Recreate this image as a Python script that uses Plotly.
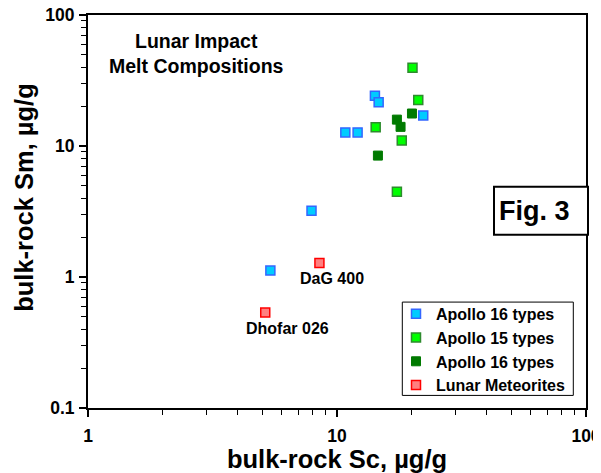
import math
import plotly.graph_objects as go

FONT = "Arial, Liberation Sans, sans-serif"

# Apollo 16 types (light blue)
a16_sc = [14.2, 14.7, 22.2, 10.8, 12.1, 7.9, 5.4]
a16_sm = [24.2, 21.6, 17.1, 12.7, 12.7, 3.2, 1.12]
# Apollo 15 types (light green)
a15_sc = [20.1, 21.2, 14.3, 18.2, 17.4]
a15_sm = [39.6, 22.4, 13.9, 11.0, 4.47]
# Apollo 16 types (dark green)
a16b_sc = [20.0, 17.4, 18.0, 14.6]
a16b_sm = [17.7, 15.9, 14.0, 8.45]
# Lunar meteorites
met_sc = [8.5, 5.15]
met_sm = [1.28, 0.536]
met_names = ["DaG 400", "Dhofar 026"]

x_ticks = [1, 10, 100]
y_ticks = [0.1, 1, 10, 100]
x_minor = [m * d for d in (1, 10) for m in range(2, 10)]
y_minor = [m * d for d in (0.1, 1, 10) for m in range(2, 10)]

fig = go.Figure()

def add(xs, ys, name, fill, edge, width=1.5):
    fig.add_trace(go.Scatter(
        x=xs, y=ys, mode="markers", name="<b>%s</b>" % name,
        marker=dict(symbol="square", size=9, color=fill,
                    line=dict(color=edge, width=width)),
    ))

add(a16_sc, a16_sm, "Apollo 16 types", "#00CCFF", "#3366FF")
add(a15_sc, a15_sm, "Apollo 15 types", "#00FF00", "#2E8B2E")
add(a16b_sc, a16b_sm, "Apollo 16 types", "#007A00", "#007A00", 1)
add(met_sc, met_sm, "Lunar Meteorites", "#FF8080", "#FF0000")

# labels for meteorites (log axes: annotation coords are log10)
offsets = [(13, -16), (22, -16)]
for xv, yv, nm, (dx, dy) in zip(met_sc, met_sm, met_names, offsets):
    fig.add_annotation(x=math.log10(xv), y=math.log10(yv), xref="x", yref="y",
                       text="<b>%s</b>" % nm, showarrow=False, xshift=dx, yshift=dy,
                       xanchor="center", yanchor="middle",
                       font=dict(family=FONT, size=16, color="black"))

# plot area in page pixels (page has an 8px body margin)
OFF = 8
FW, FH = 593, 465
L, R, T, B = 88, 586, 15, 408.3
W, H = R - L, B - T
def px(xp):
    return (xp - L) / W
def py(yp):
    return (B - yp) / H

fig.add_annotation(x=px(196), y=py(54), xref="paper", yref="paper",
                   xanchor="center", yanchor="middle",
                   text="<b>Lunar Impact<br>Melt Compositions</b>", showarrow=False,
                   font=dict(family=FONT, size=19.5, color="black"), align="center")

# y axis title (placed as text so it can sit off-centre like the reference)
fig.add_annotation(x=px(24), y=py(198), xref="paper", yref="paper",
                   xanchor="center", yanchor="middle", textangle=-90,
                   text="<b>bulk-rock Sm, µg/g</b>", showarrow=False,
                   font=dict(family=FONT, size=25.5, color="black"))

# Fig. 3 box
fig.add_shape(type="rect", xref="paper", yref="paper",
              x0=px(494), x1=px(588), y0=py(235), y1=py(187),
              line=dict(color="black", width=2), fillcolor="white", layer="above")
fig.add_annotation(x=px(534), y=py(211), xref="paper", yref="paper",
                   xanchor="center", yanchor="middle",
                   text="<b>Fig. 3</b>", showarrow=False,
                   font=dict(family=FONT, size=27, color="black"))

# legend frame
fig.add_shape(type="rect", xref="paper", yref="paper",
              x0=px(402.3), x1=px(573.3), y0=py(395.7), y1=py(302.3),
              line=dict(color="black", width=1), fillcolor="white", layer="below")

axis_common = dict(
    type="log", showgrid=False, zeroline=False, automargin=False,
    showline=True, linecolor="black", linewidth=2, mirror=True,
    ticks="outside", ticklen=7, tickwidth=1.5, tickcolor="black",
    ticklabeloverflow="allow",
    tickfont=dict(family=FONT, size=17.5, color="black"),
)

fig.update_xaxes(range=[0, 2], tickvals=x_ticks,
                 ticktext=["<b>%g</b>" % v for v in x_ticks], ticklabelstandoff=4,
                 minor=dict(tickmode="array", tickvals=x_minor, ticks="outside",
                            ticklen=5, tickwidth=1.2, tickcolor="black", showgrid=False),
                 title=dict(text="<b>bulk-rock Sc, µg/g</b>", standoff=5,
                            font=dict(family=FONT, size=25.5, color="black")),
                 **axis_common)
fig.update_yaxes(range=[-1, 2], tickvals=y_ticks,
                 ticktext=["<b>%g</b>" % v for v in y_ticks], ticklabelstandoff=1,
                 minor=dict(tickmode="array", tickvals=y_minor, ticks="outside",
                            ticklen=5, tickwidth=1.2, tickcolor="black", showgrid=False),
                 **axis_common)

fig.update_layout(
    width=FW, height=FH,
    margin=dict(l=L - OFF, r=FW - (R - OFF), t=T - OFF, b=FH - (B - OFF), pad=0),
    paper_bgcolor="white", plot_bgcolor="white",
    font=dict(family=FONT, color="black"),
    legend=dict(x=px(396), y=py(297), xanchor="left", yanchor="top",
                borderwidth=0, bgcolor="rgba(0,0,0,0)",
                font=dict(family=FONT, size=16, color="black"),
                itemwidth=30),
    showlegend=True,
)

fig.write_html("out.html")
